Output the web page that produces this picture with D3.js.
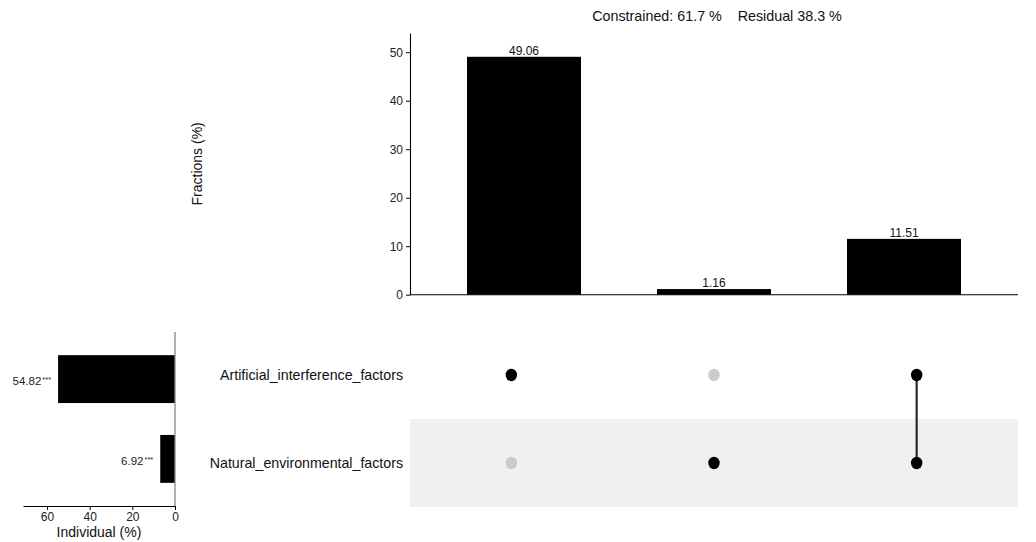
<!DOCTYPE html>
<html>
<head>
<meta charset="utf-8">
<script src="https://cdn.jsdelivr.net/npm/d3@7"></script>
<style>
  html, body { margin: 0; padding: 0; background: #fff; }
  svg { display: block; font-family: "Liberation Sans", Arial, sans-serif; }
</style>
</head>
<body>
<svg id="chart" width="1036" height="542"></svg>
<script>
// Variance partitioning: shared and unique fractions of two factor groups
const factors = ["Artificial_interference_factors", "Natural_environmental_factors"];
const individualValues = [54.82, 6.92];
const individualSig = ["***", "***"];

const comboIds = ["A", "N", "AN"];
const comboValues = [49.06, 1.16, 11.51];
// membership of each combination: [artificial, natural]
const comboMembers = [[1, 0], [0, 1], [1, 1]];

const yTicks = [0, 10, 20, 30, 40, 50];
const xTicksIndividual = [0, 20, 40, 60];
const titleText = "Constrained: 61.7 %    Residual 38.3 %";

const svg = d3.select("#chart");
const tickFont = 12;

// ---------- top panel: fraction bars ----------
const barBox = { left: 410, right: 1018, top: 33, bottom: 294.7 };

const xBar = d3.scaleBand()
  .domain(comboIds)
  .range([barBox.left, barBox.right])
  .paddingInner(0.4)
  .paddingOuter(0.3);

const yBar = d3.scaleLinear()
  .domain([0, d3.max(comboValues) * 1.1])
  .range([barBox.bottom, barBox.top]);

const gTop = svg.append("g");

gTop.selectAll("rect.bar")
  .data(comboValues)
  .join("rect")
  .attr("class", "bar")
  .attr("x", (d, i) => xBar(comboIds[i]))
  .attr("width", xBar.bandwidth())
  .attr("y", d => yBar(d))
  .attr("height", d => yBar(0) - yBar(d))
  .attr("fill", "#000");

gTop.selectAll("text.val")
  .data(comboValues)
  .join("text")
  .attr("class", "val")
  .attr("x", (d, i) => xBar(comboIds[i]) + xBar.bandwidth() / 2)
  .attr("y", d => yBar(d) - 2)
  .attr("text-anchor", "middle")
  .attr("font-size", 12)
  .attr("fill", "#111")
  .text(d => d.toFixed(2));

const yAxis = gTop.append("g")
  .attr("transform", `translate(${barBox.left},0)`)
  .call(d3.axisLeft(yBar).tickValues(yTicks).tickSize(4).tickPadding(3).tickSizeOuter(0));
yAxis.select(".domain").attr("stroke", "#000").attr("stroke-width", 1.1);
yAxis.selectAll(".tick line").attr("stroke", "#000");
yAxis.selectAll(".tick text").attr("font-size", tickFont).attr("fill", "#222")
  .attr("font-family", "Liberation Sans, Arial, sans-serif");

// x baseline
gTop.append("line")
  .attr("x1", barBox.left).attr("x2", barBox.right)
  .attr("y1", yBar(0)).attr("y2", yBar(0))
  .attr("stroke", "#000").attr("stroke-width", 1.1);

gTop.append("text")
  .attr("transform", `translate(202,${(barBox.top + barBox.bottom) / 2}) rotate(-90)`)
  .attr("text-anchor", "middle")
  .attr("font-size", 14)
  .attr("fill", "#111")
  .text("Fractions (%)");

gTop.append("text")
  .attr("x", (barBox.left + barBox.right) / 2 + 3)
  .attr("y", 21)
  .attr("text-anchor", "middle")
  .attr("font-size", 14.3)
  .attr("fill", "#111")
  .style("white-space", "pre")
  .text(titleText);

// ---------- matrix panel: set membership dots ----------
const mat = { left: 410, right: 1018, top: 331, bottom: 507 };

const rowBand = d3.scaleBand()
  .domain(factors)
  .range([mat.top, mat.bottom]);

const xDot = d3.scalePoint()
  .domain(comboIds)
  .range([mat.left, mat.right])
  .padding(0.5);

const gMat = svg.append("g");

// alternating shaded row
gMat.selectAll("rect.stripe")
  .data(factors.filter((f, i) => i % 2 === 1))
  .join("rect")
  .attr("class", "stripe")
  .attr("x", mat.left)
  .attr("width", mat.right - mat.left)
  .attr("y", d => rowBand(d))
  .attr("height", rowBand.bandwidth())
  .attr("fill", "#f0f0f0");

const rowY = f => rowBand(f) + rowBand.bandwidth() / 2;

// connectors between member factors
comboMembers.forEach((m, ci) => {
  const ys = factors.filter((f, fi) => m[fi]).map(rowY);
  if (ys.length > 1) {
    gMat.append("line")
      .attr("x1", xDot(comboIds[ci])).attr("x2", xDot(comboIds[ci]))
      .attr("y1", d3.min(ys)).attr("y2", d3.max(ys))
      .attr("stroke", "#2a2a2a").attr("stroke-width", 2.2);
  }
});

const dotData = [];
comboMembers.forEach((m, ci) => factors.forEach((f, fi) => dotData.push({ combo: comboIds[ci], factor: f, on: m[fi] })));

gMat.selectAll("ellipse.dot")
  .data(dotData)
  .join("ellipse")
  .attr("class", "dot")
  .attr("cx", d => xDot(d.combo))
  .attr("cy", d => rowY(d.factor))
  .attr("rx", 5.7)
  .attr("ry", 6.2)
  .attr("fill", d => d.on ? "#000" : "#cbcbcb");

gMat.selectAll("text.rowlab")
  .data(factors)
  .join("text")
  .attr("class", "rowlab")
  .attr("x", 403)
  .attr("y", d => rowY(d) + 5)
  .attr("text-anchor", "end")
  .attr("font-size", 14.2)
  .attr("fill", "#111")
  .text(d => d);

// ---------- left panel: individual contributions ----------
const indBox = { x0: 175, x1: 23, top: 332, bottom: 506 };

const xInd = d3.scaleLinear()
  .domain([0, d3.max(individualValues) * 1.3])
  .range([indBox.x0, indBox.x1]);

const yInd = d3.scaleBand()
  .domain(factors)
  .range([indBox.top, indBox.bottom])
  .paddingInner(0.4)
  .paddingOuter(0.29);

const gLeft = svg.append("g");

gLeft.selectAll("rect.ind")
  .data(individualValues)
  .join("rect")
  .attr("class", "ind")
  .attr("x", d => xInd(d))
  .attr("width", d => xInd(0) - xInd(d))
  .attr("y", (d, i) => yInd(factors[i]))
  .attr("height", yInd.bandwidth())
  .attr("fill", "#000");

const lab = gLeft.selectAll("text.indlab")
  .data(individualValues)
  .join("text")
  .attr("class", "indlab")
  .attr("x", d => xInd(d) - 7)
  .attr("y", (d, i) => yInd(factors[i]) + yInd.bandwidth() / 2 + 6)
  .attr("text-anchor", "end")
  .attr("font-size", 11.5)
  .attr("fill", "#222");
lab.append("tspan").text(d => d.toFixed(2));
lab.append("tspan")
  .attr("font-size", 7.5)
  .attr("dy", -3)
  .attr("dx", 1)
  .text((d, i) => individualSig[i]);

// vertical zero line
gLeft.append("line")
  .attr("x1", indBox.x0).attr("x2", indBox.x0)
  .attr("y1", indBox.top).attr("y2", indBox.bottom + 1)
  .attr("stroke", "#888").attr("stroke-width", 1.3);

const xAxisInd = gLeft.append("g")
  .attr("transform", `translate(0,${indBox.bottom})`)
  .call(d3.axisBottom(xInd).tickValues(xTicksIndividual).tickSize(4).tickPadding(2).tickSizeOuter(0));
xAxisInd.select(".domain").attr("stroke", "#000").attr("stroke-width", 1.1);
xAxisInd.selectAll(".tick line").attr("stroke", "#000");
xAxisInd.selectAll(".tick text").attr("font-size", tickFont).attr("fill", "#222")
  .attr("font-family", "Liberation Sans, Arial, sans-serif");

gLeft.append("text")
  .attr("x", (indBox.x0 + indBox.x1) / 2)
  .attr("y", 537)
  .attr("text-anchor", "middle")
  .attr("font-size", 14)
  .attr("fill", "#111")
  .text("Individual (%)");
</script>
</body>
</html>
